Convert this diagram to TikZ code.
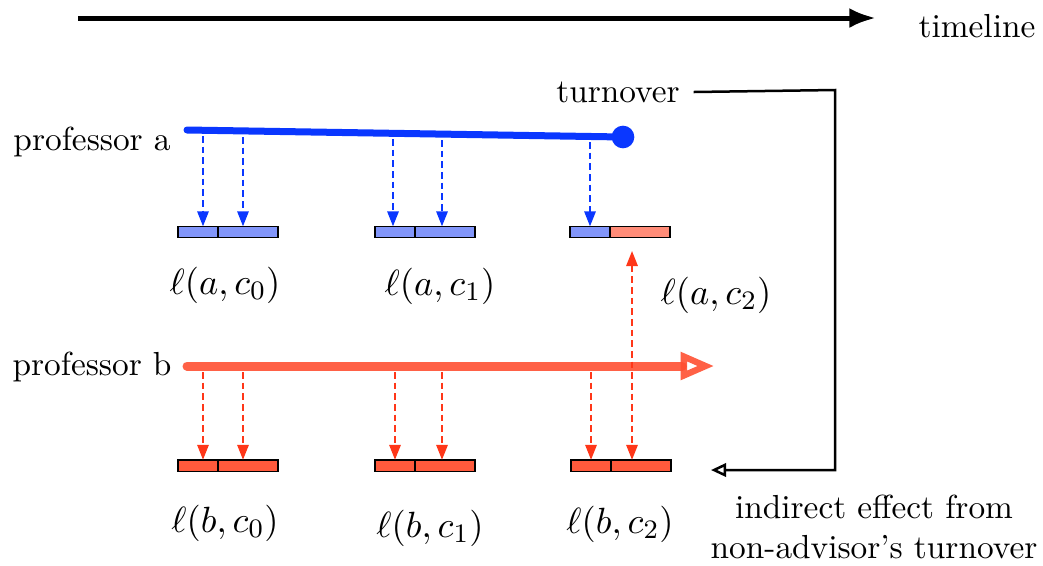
\documentclass[tikz,border=0pt]{standalone}
\usepackage{amsmath}
\usetikzlibrary{arrows.meta, positioning, calc}
\definecolor{profblue}{RGB}{10,55,255}
\definecolor{profred}{RGB}{255,80,50}
\definecolor{dashred}{RGB}{255,55,25}
\definecolor{cellblue}{RGB}{130,150,250}
\definecolor{cellred}{RGB}{255,90,60}
\definecolor{cellsalmon}{RGB}{255,140,120}
\tikzset{
  cell/.style={
    rectangle, draw=black, line width=0.4pt,
    minimum height=3.4pt, inner sep=0pt, outer sep=0pt
  },
  leftcell/.style={cell, minimum width=12pt},
  rightcell/.style={cell, minimum width=18pt},
  txt/.style={font=\normalsize, inner sep=1pt},
  mathtxt/.style={font=\fontsize{11}{13}\selectfont, inner sep=1pt},
  blueinf/.style={draw=profblue, dash pattern=on 2pt off 1.2pt, line width=0.6pt,
    -{Triangle[length=4.5pt,width=3.4pt]}},
  redinf/.style={draw=dashred, dash pattern=on 2pt off 1.2pt, line width=0.6pt,
    -{Triangle[length=4.5pt,width=3.4pt]}},
  feedback/.style={draw=black, line width=0.75pt, -{Triangle[open,length=4.5pt,width=4pt]}},
}

\begin{document}
\begin{tikzpicture}[x=0.3pt, y=-0.3pt, node distance=0pt]
  \useasboundingbox (0,0) rectangle (1043,565);

  % timeline
  \coordinate (tl0) at (78,18);
  \coordinate (tl1) at (876,18);
  \draw [line width=1.5pt, -{Latex[length=8pt,width=6pt]}] (tl0) -- (tl1);
  \node (timeline) [txt] at (977,26) {timeline};

  % professor a
  \node (profa) [txt] at (92,142) {professor a};
  \coordinate (astart) at (187,130);
  \coordinate (aend)   at (623,137);
  \draw [profblue, line width=2.1pt, line cap=round] (astart) -- (aend);
  \fill [profblue] (aend) circle (3.4pt);
  \node (turnover) [txt] at (618,92) {turnover};

  % cells of professor a
  \node (a0l) [leftcell,  fill=cellblue] at (198,232) {};
  \node (a0r) [rightcell, fill=cellblue, right=of a0l] {};
  \node (a1l) [leftcell,  fill=cellblue] at (395,232) {};
  \node (a1r) [rightcell, fill=cellblue, right=of a1l] {};
  \node (a2l) [leftcell,  fill=cellblue] at (590,232) {};
  \node (a2r) [rightcell, fill=cellsalmon, right=of a2l] {};

  \node (la0) [mathtxt] at (225,285) {$\ell(a,c_0)$};
  \node (la1) [mathtxt] at (440,286) {$\ell(a,c_1)$};
  \node (la2) [mathtxt] at (716,295) {$\ell(a,c_2)$};

  % professor b
  \node (profb) [txt] at (92,367) {professor b};
  \coordinate (bstart) at (187,366);
  \coordinate (bend)   at (714,366);
  \draw [profred, opacity=0.9, line width=2.7pt, line cap=round,
    -{Triangle[open,length=10pt,width=8pt,line width=1.9pt]}] (bstart) -- (bend);

  % cells of professor b
  \node (b0l) [leftcell,  fill=cellred] at (198,465.5) {};
  \node (b0r) [rightcell, fill=cellred, right=of b0l] {};
  \node (b1l) [leftcell,  fill=cellred] at (395,465.5) {};
  \node (b1r) [rightcell, fill=cellred, right=of b1l] {};
  \node (b2l) [leftcell,  fill=cellred] at (591,465.5) {};
  \node (b2r) [rightcell, fill=cellred, right=of b2l] {};

  \node (lb0) [mathtxt] at (225,523) {$\ell(b,c_0)$};
  \node (lb1) [mathtxt] at (430,528) {$\ell(b,c_1)$};
  \node (lb2) [mathtxt] at (620,524) {$\ell(b,c_2)$};

  % influence of a on its cells
  \coordinate (pa1) at (203,136);
  \coordinate (pa2) at (243,137);
  \coordinate (pa3) at (393,139);
  \coordinate (pa4) at (442,140);
  \coordinate (pa5) at (590,142);
  \draw [blueinf] (pa1) -- (pa1 |- a0l.north);
  \draw [blueinf] (pa2) -- (pa2 |- a0r.north);
  \draw [blueinf] (pa3) -- (pa3 |- a1l.north);
  \draw [blueinf] (pa4) -- (pa4 |- a1r.north);
  \draw [blueinf] (pa5) -- (pa5 |- a2l.north);

  % influence of b on its cells
  \coordinate (pb1) at (203,372);
  \coordinate (pb2) at (243,372);
  \coordinate (pb3) at (395,372);
  \coordinate (pb4) at (442,372);
  \coordinate (pb5) at (591,372);
  \draw [redinf] (pb1) -- (pb1 |- b0l.north);
  \draw [redinf] (pb2) -- (pb2 |- b0r.north);
  \draw [redinf] (pb3) -- (pb3 |- b1l.north);
  \draw [redinf] (pb4) -- (pb4 |- b1r.north);
  \draw [redinf] (pb5) -- (pb5 |- b2l.north);

  % b takes over a's student
  \coordinate (handup) at (632,251);
  \draw [redinf, {Triangle[length=4.5pt,width=3.4pt]}-{Triangle[length=4.5pt,width=3.4pt]}]
    (handup) -- (handup |- b2r.north);

  % indirect effect
  \coordinate (fbend) at (835,90);
  \coordinate (fbin)  at (711,470);
  \draw [feedback] (turnover.east) ++(3pt,0) -- (fbend) |- (fbin);
  \node (indirect) [txt, align=center] at (874,527)
    {indirect effect from\\non-advisor's turnover};
\end{tikzpicture}
\end{document}
